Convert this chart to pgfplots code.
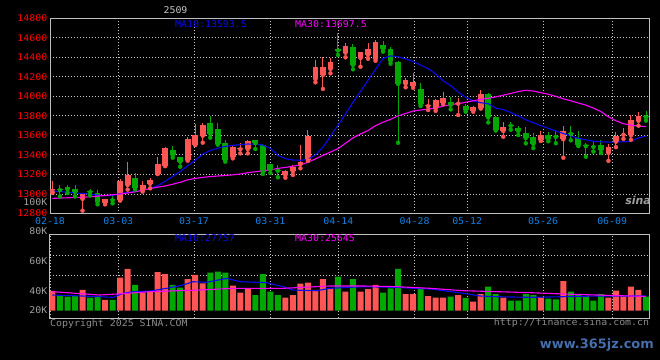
\documentclass[border=0pt]{standalone}
\usepackage{pgfplots}
\pgfplotsset{compat=1.18}
\usepackage{pgfplotstable}
\usepackage{fontspec}
\setmonofont{DejaVu Sans Mono}[FakeStretch=1.07]
\newfontfamily\wmfont{DejaVu Sans}
\newcommand\sinafont{\ttfamily\fontsize{9.3}{11}\selectfont}
\definecolor{upcol}{RGB}{255,85,85}
\definecolor{downcol}{RGB}{0,168,0}
\definecolor{matencol}{RGB}{10,10,240}
\definecolor{mathirtycol}{RGB}{255,0,255}
\definecolor{gridcol}{RGB}{200,200,200}
\definecolor{bordercol}{RGB}{190,190,190}
\definecolor{datecol}{RGB}{20,130,230}
\definecolor{vollabcol}{RGB}{160,160,160}
\definecolor{copycol}{RGB}{140,140,140}
\definecolor{wmcol}{RGB}{70,110,170}

\pgfplotstableread{
i o h l c v
0 13017 13133 13013 13050 37.2
4 12950 13007 12829 12998 39.1
7 12911 12952 12894 12949 20.2
9 12938 13150 12932 13135 62.3
10 13092 13326 13045 13195 78.7
12 13041 13135 13024 13093 34.0
13 13105 13165 13058 13143 35.8
14 13205 13375 13205 13307 73.0
15 13290 13480 13285 13475 69.2
18 13348 13580 13341 13563 59.8
19 13502 13717 13502 13604 67.4
20 13597 13724 13526 13707 51.5
24 13382 13492 13365 13485 47.2
25 13458 13526 13416 13468 34.0
26 13460 13553 13416 13543 42.1
31 13194 13242 13167 13239 24.5
32 13232 13297 13195 13278 29.6
33 13307 13502 13263 13331 50.9
34 13348 13655 13338 13594 52.8
35 14178 14373 14144 14304 39.1
36 14219 14407 14076 14304 59.8
37 14281 14390 14236 14356 42.1
39 14448 14544 14400 14516 35.8
41 14393 14455 14304 14450 35.8
42 14424 14545 14385 14485 40.9
43 14386 14580 14365 14560 48.5
47 14130 14190 14093 14165 31.5
48 14110 14243 14088 14143 31.5
50 13900 13972 13860 13910 27.7
51 13878 13972 13852 13963 24.5
52 13930 14043 13920 13988 24.5
54 13925 13980 13809 13935 29.6
56 13855 13901 13843 13895 17.0
57 13880 14065 13875 14022 31.5
60 13645 13741 13587 13690 24.5
65 13553 13645 13543 13600 25.1
68 13560 13696 13372 13645 56.0
74 13420 13512 13340 13480 24.5
75 13536 13635 13480 13597 37.7
76 13607 13672 13565 13617 26.4
77 13600 13805 13555 13762 45.3
78 13750 13836 13700 13800 39.1
}\up

\pgfplotstableread{
i o h l c v
1 13050 13092 12975 13040 29.6
2 13075 13095 13010 13048 26.4
3 13052 13092 12975 13020 27.7
5 13030 13050 12985 13018 24.5
6 13010 13040 12894 12921 26.4
8 12948 12979 12904 12936 20.2
11 13162 13215 13045 13065 48.5
16 13451 13495 13372 13399 48.5
17 13375 13382 13280 13331 43.4
21 13731 13799 13577 13615 71.7
22 13666 13731 13506 13512 73.6
23 13526 13553 13331 13348 71.7
27 13553 13553 13461 13519 29.6
28 13500 13510 13205 13229 69.2
29 13307 13310 13215 13250 35.8
30 13246 13297 13171 13238 29.6
38 14482 14646 14424 14470 64.2
40 14505 14537 14277 14321 59.8
44 14522 14565 14458 14483 34.0
45 14483 14505 14335 14364 42.1
46 14356 14366 13525 14127 78.7
49 14075 14134 13901 13920 40.9
53 13946 13997 13867 13912 26.4
55 13901 13918 13843 13860 24.0
58 14024 14030 13733 13784 45.3
59 13792 13795 13650 13658 31.5
61 13708 13741 13658 13698 18.9
62 13680 13697 13604 13645 18.9
63 13628 13683 13519 13573 31.5
64 13587 13621 13470 13512 29.6
66 13604 13640 13540 13565 22.6
67 13595 13650 13520 13585 21.3
69 13625 13693 13550 13615 35.8
70 13570 13645 13490 13502 29.6
71 13500 13526 13382 13490 27.7
72 13492 13545 13435 13482 18.9
73 13502 13553 13420 13451 31.5
79 13797 13850 13752 13787 26.4
}\down

\pgfplotstableread{
i ma10 ma30
0 13032 12955
1 13025 12958
2 13018 12961
3 13010 12964
4 13005 12967
5 13000 12971
6 12988 12978
7 12982 12985
8 12985 12992
9 13003 13000
10 13015 13010
11 13026 13022
12 13040 13038
13 13055 13055
14 13085 13070
15 13130 13082
16 13180 13100
17 13230 13120
18 13290 13145
19 13345 13160
20 13410 13170
21 13445 13178
22 13470 13184
23 13488 13190
24 13498 13196
25 13506 13205
26 13512 13218
27 13510 13228
28 13502 13238
29 13468 13248
30 13395 13262
31 13362 13272
32 13348 13285
33 13345 13297
34 13355 13325
35 13400 13360
36 13480 13395
37 13590 13430
38 13705 13465
39 13820 13520
40 13940 13575
41 14050 13615
42 14165 13650
43 14275 13700
44 14390 13735
45 14415 13765
46 14405 13800
47 14385 13825
48 14358 13850
49 14320 13860
50 14285 13870
51 14230 13880
52 14160 13900
53 14110 13915
54 14045 13925
55 13990 13940
56 13955 13955
57 13935 13970
58 13925 13980
59 13880 13995
60 13865 14012
61 13835 14030
62 13800 14050
63 13760 14062
64 13730 14055
65 13700 14038
66 13673 14022
67 13645 14000
68 13620 13975
69 13595 13955
70 13570 13932
71 13555 13910
72 13540 13880
73 13535 13845
74 13532 13790
75 13532 13750
76 13535 13720
77 13540 13705
78 13575 13695
79 13593 13690
}\pma

\pgfplotstableread{
i v
0 29.6
4 27.7
6.3 26.4
8.1 25.2
9.4 32.8
10.8 35.9
13 37.1
15.2 42.2
17.4 48.5
18.7 54.7
20.5 53.5
23.2 61
25 54.7
28.5 52.8
30.7 45.3
32 39
35.2 37.7
36.9 42.2
41.4 45.3
45.8 44
48 42.2
50.3 40.9
54.7 32.8
56.9 27.7
59.1 26.4
63.6 25.2
68 26.4
72.4 27.7
76.9 27.7
79 27.7
}\vmaten

\pgfplotstableread{
i v
0 35.9
6.3 29.6
8.6 31.5
13 35.9
19.6 39
24.1 42.2
30.7 42.2
36.9 46.6
41.4 46.6
45.8 45.3
50.3 42.2
54.7 37.7
59.1 35.9
63.6 34
68 31.5
72.4 29.6
76.9 27.7
79 27.0
}\vmathirty

\begin{document}
\begin{tikzpicture}[x=1bp,y=1bp]
\fill[black] (0bp,0bp) rectangle (660bp,-360bp);

% ---------------- price pane ----------------
\begin{axis}[
  at={(50bp,-18.3bp)}, anchor=north west,
  scale only axis, width=599bp, height=195.2bp,
  xmin=-0.33, xmax=79.4, ymin=12800, ymax=14800,
  scaled y ticks=false, scaled x ticks=false,
  axis line style={draw=bordercol, line width=1bp},
  major tick length=0pt,
  xtick={-0.33,8.76,18.84,29.0,38.05,48.2,55.2,65.3,74.5},
  xticklabels={02-18,03-03,03-17,03-31,04-14,04-28,05-12,05-26,06-09},
  xticklabel style={text=datecol, font=\sinafont, inner sep=1bp, yshift=-2.5bp},
  ytick={12800,13000,13200,13400,13600,13800,14000,14200,14400,14600,14800},
  yticklabels={12800,13000,13200,13400,13600,13800,14000,14200,14400,14600,14800},
  yticklabel style={text=red, font=\sinafont, inner sep=1bp, xshift=-1.5bp},
  grid=major,
  major grid style={draw=gridcol, line width=0.9bp, dash pattern=on 1bp off 2bp},
]
% wicks
\addplot[upcol, only marks, mark=none, forget plot,
  error bars/.cd, y dir=plus, y explicit, error mark=none,
  error bar style={draw=upcol, line width=1bp}]
  table[x=i, y=l, y error expr=\thisrow{h}-\thisrow{l}] {\up};
\addplot[downcol, only marks, mark=none, forget plot,
  error bars/.cd, y dir=plus, y explicit, error mark=none,
  error bar style={draw=downcol, line width=1bp}]
  table[x=i, y=l, y error expr=\thisrow{h}-\thisrow{l}] {\down};
% bodies
\addplot[upcol, only marks, mark=none, forget plot,
  error bars/.cd, y dir=plus, y explicit, error mark=none,
  error bar style={draw=upcol, line width=5.8bp}]
  table[x=i, y=o, y error expr=\thisrow{c}-\thisrow{o}] {\up};
\addplot[downcol, only marks, mark=none, forget plot,
  error bars/.cd, y dir=plus, y explicit, error mark=none,
  error bar style={draw=downcol, line width=5.8bp}]
  table[x=i, y=c, y error expr=\thisrow{o}-\thisrow{c}] {\down};
% moving averages
\addplot[matencol, line width=1.1bp, mark=none] table[x=i, y=ma10] {\pma};
\addplot[mathirtycol, line width=1.1bp, mark=none] table[x=i, y=ma30] {\pma};
\end{axis}

% ---------------- volume pane ----------------
\begin{axis}[
  at={(50bp,-234.7bp)}, anchor=north west,
  scale only axis, width=599bp, height=83.3bp,
  xmin=-0.33, xmax=79.4, ymin=-13.8, ymax=143.4,
  scaled y ticks=false, scaled x ticks=false,
  axis line style={draw=bordercol, line width=1bp},
  major tick length=0pt,
  xtick={-0.33,8.76,18.84,29.0,38.05,48.2,55.2,65.3,74.5},
  xticklabels={},
  xmajorgrids,
  ytick={0.8,37.7,94.3},
  yticklabels={20K,40K,60K},
  yticklabel style={text=vollabcol, font=\sinafont, inner sep=1bp, xshift=-1.5bp},
  extra y ticks={67.4,105.1},
  extra y tick labels={},
  extra y tick style={ymajorgrids=true},
  major grid style={draw=gridcol, line width=0.9bp, dash pattern=on 1bp off 2bp},
]
\addplot[ybar, bar width=6bp, bar shift=0pt, fill=upcol, draw=none, forget plot]
  table[x=i, y=v] {\up};
\addplot[ybar, bar width=6bp, bar shift=0pt, fill=downcol, draw=none, forget plot]
  table[x=i, y=v] {\down};
\addplot[matencol, line width=1.1bp, mark=none] table[x=i, y=v] {\vmaten};
\addplot[mathirtycol, line width=1.1bp, mark=none] table[x=i, y=v] {\vmathirty};
\end{axis}

% ---------------- texts ----------------
\node[text=gridcol, font=\sinafont] at (175.5bp,-9.7bp) {2509};
\node[anchor=west, inner sep=0, text=matencol, font=\sinafont] at (175bp,-23.7bp) {MA10:13593.5};
\node[anchor=west, inner sep=0, text=mathirtycol, font=\sinafont] at (295bp,-23.7bp) {MA30:13697.5};
\node[anchor=west, inner sep=0, text=matencol, font=\sinafont] at (175bp,-238.3bp) {MA10:27757};
\node[anchor=west, inner sep=0, text=mathirtycol, font=\sinafont] at (295bp,-238.3bp) {MA30:25645};
\node[anchor=east, inner sep=0, text=vollabcol, font=\sinafont] at (47.5bp,-201.8bp) {100K};
\node[anchor=east, inner sep=0, text=vollabcol, font=\sinafont] at (47.5bp,-231bp) {80K};
\node[anchor=base west, inner sep=0, text=copycol, font=\sinafont] at (50bp,-326bp) {Copyright 2025 SINA.COM};
\node[anchor=base east, inner sep=0, text=copycol, font=\sinafont] at (649.3bp,-325.5bp) {http://finance.sina.com.cn};
\node[anchor=east, inner sep=0, text=gray!75, font=\wmfont\bfseries\itshape\fontsize{11}{11}\selectfont] at (651bp,-200bp) {sina};
\node[anchor=east, inner sep=0, text=wmcol, font=\wmfont\bfseries\fontsize{13}{13}\selectfont] at (654bp,-345bp) {www.365jz.com};
\end{tikzpicture}
\end{document}
